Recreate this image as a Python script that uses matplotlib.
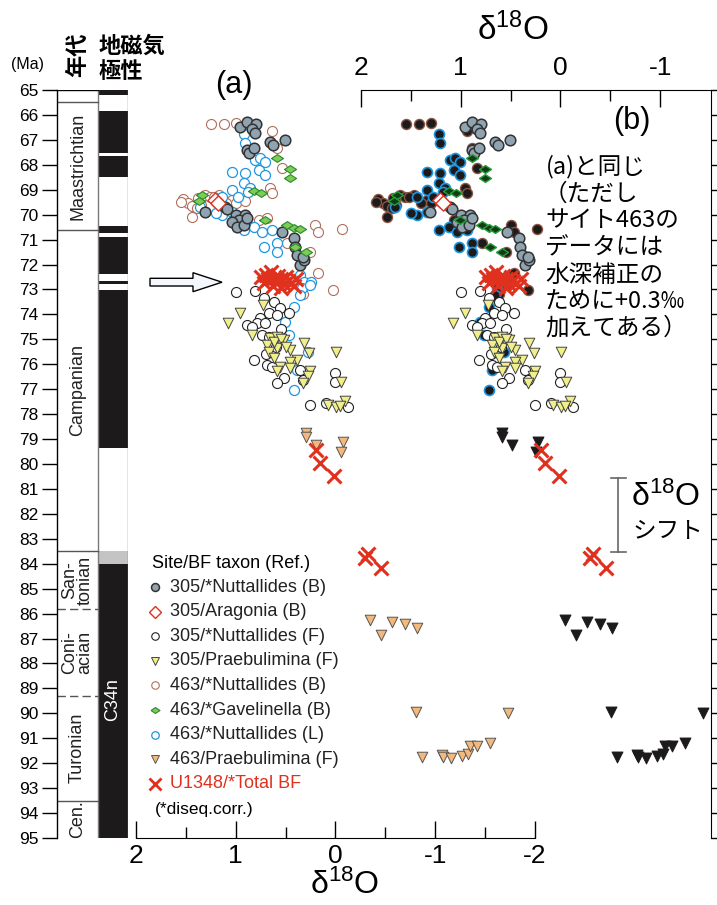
"""
Late Cretaceous benthic foraminiferal d18O compilation
(a) raw values, (b) site 463 shifted +0.3 permil for water depth.
"""

import matplotlib
matplotlib.use("Agg")
import numpy as np
import matplotlib.pyplot as plt
from matplotlib.lines import Line2D
from matplotlib.patches import Polygon, Rectangle
from matplotlib.transforms import Affine2D

plt.rcParams["font.family"] = ["Liberation Sans", "Noto Sans CJK JP", "DejaVu Sans"]
plt.rcParams["mathtext.fontset"] = "custom"
plt.rcParams["mathtext.rm"] = "Liberation Sans"
plt.rcParams["mathtext.default"] = "rm"
plt.rcParams["axes.unicode_minus"] = False

# ---------------------------------------------------------------- data
# age column
stage_names = ["", "Maastrichtian", "Campanian", "San-\ntonian", "Coni-\nacian", "Turonian", "Cen."]
stage_bounds = [65.0, 65.5, 70.6, 83.5, 85.8, 89.3, 93.5, 95.0]
dashed_bounds = [85.8, 89.3]

# normal polarity (black) intervals, Ma
chron_top = [65.0, 65.84, 67.65, 70.45, 70.9, 72.65, 73.02, 84.0]
chron_base = [65.2, 67.51, 68.47, 70.75, 72.38, 72.78, 79.34, 95.0]
chron_grey = [83.5, 84.0]

# 305 / *Nuttallides (B)
nut305b_d18o = [0.96, 0.89, 0.80, 0.84, 0.81, 0.66, 0.63, 0.51, 0.89, 0.87, 0.82,
                1.31, 1.11, 1.09, 1.00, 0.91, 0.97, 1.04, 0.99, 0.92, 0.89, 0.54,
                0.42, 0.41, 0.39, 0.36, 0.31, 0.32]
nut305b_age = [66.47, 66.27, 66.36, 66.58, 66.74, 67.07, 67.20, 67.00, 67.41, 67.54, 67.32,
               69.88, 69.68, 69.77, 70.00, 70.00, 70.20, 70.30, 70.48, 70.40, 70.15, 70.68,
               70.95, 71.28, 71.60, 72.00, 71.80, 71.70]

# 305 / Aragonia (B)
ara305_d18o = [1.21, 1.18]
ara305_age = [69.42, 69.52]

# 305 / *Nuttallides (F)
nut305f_d18o = [1.00, 0.81, 0.72, 0.62, 0.56, 0.47, 0.67, 0.59, 0.76, 0.79, 0.89, 0.84,
                0.71, 0.74, 0.67, 0.82, 0.69, 0.64, 0.52, 0.59, 0.36, 0.32, 0.00, 0.00,
                0.25, 0.09, -0.13, 0.55, 0.60, 0.70]
nut305f_age = [73.11, 73.06, 73.36, 73.49, 73.75, 73.95, 73.95, 74.02, 74.15, 74.35, 74.42, 74.49,
               74.35, 74.82, 74.89, 75.83, 76.03, 76.10, 76.56, 76.76, 76.23, 76.63, 76.36, 76.70,
               77.63, 77.56, 77.70, 74.60, 75.30, 75.60]

# 305 / Praebulimina (F)
pra305_d18o = [0.96, 1.08, 0.73, 0.84, 0.66, 0.59, 0.52, 0.69, 0.59, 0.46, 0.67, 0.62,
               0.39, 0.46, 0.56, 0.46, 0.59, 0.25, 0.27, 0.32, 0.31, 0.26, -0.01, -0.06,
               0.07, -0.01, -0.10, -0.05, 0.62, 0.55, 0.50]
pra305_age = [73.95, 74.35, 73.61, 74.82, 74.96, 74.89, 75.02, 75.22, 75.36, 75.43, 75.49, 75.76,
              75.83, 75.89, 76.10, 76.16, 76.29, 76.29, 76.49, 76.76, 75.16, 75.56, 75.49, 76.70,
              77.63, 77.70, 77.49, 77.67, 75.10, 75.00, 75.30]

# 463 / *Nuttallides (B)
nut463b_d18o = [1.25, 1.12, 1.00, 0.64, 0.59, 0.54, 1.53, 1.48, 1.44, 1.38, 1.31, 1.26,
                1.17, 1.04, 1.00, 0.91, 1.44, 1.39, 0.66, 0.64, 0.77, 0.69, 0.49, 0.25,
                0.20, 0.17, -0.07, 0.17, 0.02, 0.32, 1.55, 1.35, 1.22, 1.10]
nut463b_age = [66.36, 66.36, 66.31, 66.64, 67.34, 68.14, 69.38, 69.54, 69.65, 69.35, 69.21, 69.30,
               69.21, 69.40, 69.54, 69.45, 70.08, 69.74, 68.94, 69.14, 70.21, 70.15, 71.15, 71.48,
               70.41, 70.68, 70.59, 72.35, 73.02, 73.20, 69.50, 69.60, 69.30, 69.55]

# 463 / *Gavelinella (B)
gav463_d18o = [0.59, 0.46, 0.46, 0.82, 0.75, 1.34, 1.37, 0.71, 0.49, 0.42, 0.36, 0.41, 0.29]
gav463_age = [67.74, 68.17, 68.54, 69.05, 69.14, 69.21, 69.47, 70.21, 70.41, 70.55, 70.59, 71.28, 71.48]

# 463 / *Nuttallides (L)
nut463l_d18o = [0.92, 0.91, 0.81, 0.76, 0.71, 0.77, 0.91, 1.04, 0.71, 0.92, 0.86, 1.04,
                1.14, 1.36, 1.04, 1.14, 0.92, 0.82, 0.74, 0.64, 0.59, 0.72, 0.59, 0.36,
                0.31, 0.24, 0.34, 0.36, 0.25, 0.42, 0.51, 0.47, 0.27, 0.42, 0.39, 1.20,
                0.98, 0.88]
nut463l_age = [66.76, 67.11, 67.81, 67.74, 67.87, 68.21, 68.34, 68.27, 68.41, 68.74, 68.94, 69.01,
               69.28, 69.68, 69.88, 70.01, 70.61, 70.48, 70.68, 70.61, 71.15, 71.28, 71.48, 72.42,
               72.69, 72.69, 72.95, 73.22, 72.82, 73.69, 74.29, 74.82, 75.49, 77.03, 76.23, 69.95,
               69.30, 69.10]

# 463 / Praebulimina (F)
pra463_d18o = [0.29, 0.29, 0.19, -0.08, -0.06, -0.35, -0.46, -0.57, -0.70, -0.82, -0.81, -1.73,
               -0.87, -1.07, -1.08, -1.16, -1.27, -1.33, -1.35, -1.42, -1.55]
pra463_age = [78.77, 78.90, 79.23, 79.13, 79.50, 86.25, 86.85, 86.35, 86.41, 86.58, 89.93, 89.99,
              91.77, 91.66, 91.76, 91.80, 91.70, 91.62, 91.30, 91.30, 91.20]

# U1348 / *Total BF
u1348_d18o = [0.75, 0.70, 0.68, 0.65, 0.62, 0.60, 0.58, 0.55, 0.52, 0.50, 0.48, 0.45,
              0.42, 0.40, 0.63, 0.55, 0.72, 0.19, 0.15, 0.01, -0.30, -0.33, -0.46]
u1348_age = [72.50, 72.40, 72.60, 72.30, 72.55, 72.70, 72.45, 72.60, 72.80, 72.50, 72.65, 72.75,
             72.85, 72.60, 72.85, 72.95, 72.75, 79.43, 79.97, 80.50, 83.78, 83.60, 84.18]

depth_corr_463 = 0.3

# ---------------------------------------------------------------- layout helpers (pixels)
W, H = 717, 905


def fx(x):
    return x / W


def fy(y):
    return 1 - y / H


def rect(x0, y0, x1, y1):
    return [fx(x0), fy(y1), (x1 - x0) / W, (y1 - y0) / H]


flat_diamond = [(-1, 0), (0, 0.65), (1, 0), (0, -0.65), (-1, 0)]
GREY = "#8fa3b1"
BROWN = "#b06f5c"
BLUE = "#1e96e0"
YELLOW = "#f0ef8a"
TAN = "#f2b87c"
RED = "#e0301e"
DARK = "#1c1a1a"

# (label, x, y, site, style a, style b)
series = [
    ("463/*Nuttallides (B)", nut463b_d18o, nut463b_age, 463,
     dict(marker="o", s=52, facecolor="white", edgecolor=BROWN, linewidth=0.8),
     dict(marker="o", s=52, facecolor=DARK, edgecolor="#8a5544", linewidth=1.0)),
    ("463/*Nuttallides (L)", nut463l_d18o, nut463l_age, 463,
     dict(marker="o", s=52, facecolor="white", edgecolor=BLUE, linewidth=0.9),
     dict(marker="o", s=52, facecolor=DARK, edgecolor=BLUE, linewidth=1.2)),
    ("305/*Nuttallides (F)", nut305f_d18o, nut305f_age, 305,
     dict(marker="o", s=52, facecolor="white", edgecolor="#222222", linewidth=0.8),
     dict(marker="o", s=52, facecolor="white", edgecolor="#222222", linewidth=0.8)),
    ("305/Praebulimina (F)", pra305_d18o, pra305_age, 305,
     dict(marker="v", s=58, facecolor=YELLOW, edgecolor="#444444", linewidth=0.7),
     dict(marker="v", s=58, facecolor=YELLOW, edgecolor="#444444", linewidth=0.7)),
    ("463/Praebulimina (F)", pra463_d18o, pra463_age, 463,
     dict(marker="v", s=58, facecolor=TAN, edgecolor="#555555", linewidth=0.7),
     dict(marker="v", s=62, facecolor=DARK, edgecolor=DARK, linewidth=0.7)),
    ("305/*Nuttallides (B)", nut305b_d18o, nut305b_age, 305,
     dict(marker="o", s=58, facecolor=GREY, edgecolor="#333333", linewidth=1.1),
     dict(marker="o", s=58, facecolor=GREY, edgecolor="#333333", linewidth=1.1)),
    ("463/*Gavelinella (B)", gav463_d18o, gav463_age, 463,
     dict(marker=flat_diamond, s=75, facecolor="#7ccc55", edgecolor="#2a8a2a", linewidth=0.8),
     dict(marker=flat_diamond, s=75, facecolor="#143a18", edgecolor="#23a03a", linewidth=1.0)),
    ("305/Aragonia (B)", ara305_d18o, ara305_age, 305,
     dict(marker="D", s=60, facecolor="white", edgecolor=RED, linewidth=1.0),
     dict(marker="D", s=60, facecolor="white", edgecolor=RED, linewidth=1.0)),
    ("U1348/*Total BF", u1348_d18o, u1348_age, 1348,
     dict(marker="x", s=100, color=RED, linewidth=2.2),
     dict(marker="x", s=100, color=RED, linewidth=2.2)),
]

fig = plt.figure(figsize=(W / 100, H / 100), dpi=100)
px = Affine2D().scale(1 / W, -1 / H).translate(0, 1) + fig.transFigure

# ---------------------------------------------------------------- age / polarity column
ax_col = fig.add_axes(rect(57, 90, 128, 838))
ax_col.set_xlim(0, 71)
ax_col.set_ylim(95, 65)
for side in ["top", "right", "bottom"]:
    ax_col.spines[side].set_visible(False)
ax_col.spines["left"].set_linewidth(1.0)
ax_col.set_xticks([])
ax_col.set_yticks(range(65, 96))
ax_col.tick_params(axis="y", direction="out", length=10.5, width=1.0, pad=3, labelsize=12.5)

for top, base in zip(chron_top, chron_base):
    ax_col.add_patch(Rectangle((41, top), 30, base - top, facecolor=DARK, edgecolor="none"))
ax_col.add_patch(Rectangle((41, chron_grey[0]), 30, chron_grey[1] - chron_grey[0],
                           facecolor="#c4c4c4", edgecolor="none"))
ax_col.plot([41, 41], [65, 95], color="#7a7a7a", lw=1.0)
ax_col.plot([71, 71], [65, 95], color="#7a7a7a", lw=1.0)
ax_col.plot([0, 41], [65, 65], color="black", lw=1.0)

for b in stage_bounds[1:-1]:
    if b in dashed_bounds:
        ax_col.plot([0, 41], [b, b], color="#555555", lw=1.0, ls=(0, (6, 3)))
    else:
        ax_col.plot([0, 41], [b, b], color="#555555", lw=1.0)

for name, top, base in zip(stage_names, stage_bounds[:-1], stage_bounds[1:]):
    if name:
        ax_col.text(20.5, (top + base) / 2, name, rotation=90, ha="center", va="center",
                    fontsize=13, linespacing=0.85, color="#222222")
ax_col.text(56, 89.46, "C34n", rotation=90, ha="center", va="center", fontsize=13, color="white")

fig.text(fx(28), fy(64), "(Ma)", ha="center", va="center", fontsize=11.5)
fig.text(fx(78), fy(55), "年代", rotation=90, ha="center", va="center", fontsize=16,
         fontweight="bold", family=["Noto Sans CJK JP"])
fig.text(fx(99), fy(46), "地磁気", ha="left", va="center", fontsize=16, fontweight="bold",
         family=["Noto Sans CJK JP"])
fig.text(fx(99), fy(71), "極性", ha="left", va="center", fontsize=16, fontweight="bold",
         family=["Noto Sans CJK JP"])

# ---------------------------------------------------------------- main axes
# (a) uses the bottom scale, (b) the top scale; both share the age axis
ax_a = fig.add_axes(rect(136, 90, 711, 838))
ax_a.set_xlim(2, 2 - (711 - 136) / 99.7)
ax_a.set_ylim(95, 65)
ax_a.patch.set_visible(False)
for side in ["top", "right", "left"]:
    ax_a.spines[side].set_visible(False)
ax_a.spines["bottom"].set_bounds(-2, 2)
ax_a.set_yticks([])
ax_a.set_xticks([2, 1, 0, -1, -2])
ax_a.set_xticks([1.5, 0.5, -0.5, -1.5], minor=True)
ax_a.tick_params(axis="x", which="major", direction="in", length=12, width=1.0, pad=4, labelsize=19)
ax_a.tick_params(axis="x", which="minor", direction="in", length=8, width=1.0)

ax_b = fig.add_axes(rect(136, 90, 711, 838))
offset_px = 361 - 136
ax_b.set_xlim(2 + offset_px / 99.7, 2 - (711 - 361) / 99.7)
ax_b.set_ylim(95, 65)
ax_b.patch.set_visible(False)
for side in ["bottom", "left"]:
    ax_b.spines[side].set_visible(False)
ax_b.spines["top"].set_bounds(ax_b.get_xlim()[1], 2)
ax_b.xaxis.tick_top()
ax_b.set_xticks([2, 1, 0, -1])
ax_b.set_xticks([1.5, 0.5, -0.5], minor=True)
ax_b.tick_params(axis="x", which="major", direction="in", length=12, width=1.0, pad=7, labelsize=19)
ax_b.tick_params(axis="x", which="minor", direction="in", length=8, width=1.0)
ax_b.yaxis.tick_right()
ax_b.set_yticks(range(65, 96))
ax_b.tick_params(axis="y", direction="out", length=6, width=1.0, labelright=False)

for label, xs, ys, site, st_a, st_b in series:
    ax_a.scatter(xs, ys, clip_on=False, **st_a)
    corr = depth_corr_463 if site == 463 else 0.0
    ax_b.scatter(np.array(xs) + corr, ys, clip_on=False, **st_b)

fig.text(fx(345), fy(885), "δ$^{18}$O", ha="center", va="center", fontsize=23)
fig.text(fx(513), fy(30), "δ$^{18}$O", ha="center", va="center", fontsize=24)
fig.text(fx(234), fy(85), "(a)", ha="center", va="center", fontsize=22)
fig.text(fx(632), fy(121), "(b)", ha="center", va="center", fontsize=22)

# hollow arrow pointing at the U1348 cluster
arrow = Polygon([(150, 278.3), (193, 278.3), (193, 272.7), (222, 282.2), (193, 291.7),
                 (193, 286), (150, 286)], closed=True, facecolor="#f4f8fc",
                edgecolor="black", linewidth=1.0, transform=px)
fig.add_artist(arrow)

# note for panel (b)
note_lines = ["(a)と同じ", "（ただし", "サイト463の", "データには", "水深補正の",
              "ために+0.3‰", "加えてある）"]
note_y = [167, 194, 221, 248, 275, 302, 328]
note_x = [546, 544, 545, 545, 545, 545, 545]
for t, xx, yy in zip(note_lines, note_x, note_y):
    fig.text(fx(xx), fy(yy), t, ha="left", va="center", fontsize=17,
             family=["Noto Sans CJK JP", "DejaVu Sans"])

# d18O shift bracket
fig.add_artist(Line2D([618, 618], [478, 552], color="#666666", lw=1.2, transform=px))
fig.add_artist(Line2D([611, 626], [478, 478], color="#666666", lw=1.2, transform=px))
fig.add_artist(Line2D([611, 626], [552, 552], color="#666666", lw=1.2, transform=px))
fig.text(fx(666), fy(497), "δ$^{18}$O", ha="center", va="center", fontsize=23)
fig.text(fx(668), fy(532), "シフト", ha="center", va="center", fontsize=17,
         family=["Noto Sans CJK JP"])

# ---------------------------------------------------------------- legend (drawn by hand)
legend_order = ["305/*Nuttallides (B)", "305/Aragonia (B)", "305/*Nuttallides (F)",
                "305/Praebulimina (F)", "463/*Nuttallides (B)", "463/*Gavelinella (B)",
                "463/*Nuttallides (L)", "463/Praebulimina (F)", "U1348/*Total BF"]
styles = {s[0]: s[4] for s in series}
fig.text(fx(152), fy(563), "Site/BF taxon (Ref.)", ha="left", va="center", fontsize=13)
for i, name in enumerate(legend_order):
    yy = 587 + 24.6 * i
    st = styles[name]
    scale = 0.75 if st["marker"] != "x" else 0.9
    ms = np.sqrt(st["s"]) * scale
    if st["marker"] == "x":
        h = Line2D([155], [yy], marker="x", ls="none", color=RED, markersize=ms,
                   markeredgewidth=2.0, transform=px)
    else:
        h = Line2D([155], [yy], marker=st["marker"], ls="none", markersize=ms,
                   markerfacecolor=st["facecolor"], markeredgecolor=st["edgecolor"],
                   markeredgewidth=st["linewidth"], transform=px)
    fig.add_artist(h)
    fig.text(fx(170), fy(yy), name, ha="left", va="center", fontsize=13,
             color=RED if name.startswith("U1348") else "#222222")
fig.text(fx(155), fy(809), "(*diseq.corr.)", ha="left", va="center", fontsize=12.5)

fig.savefig("out.png", dpi=100)
